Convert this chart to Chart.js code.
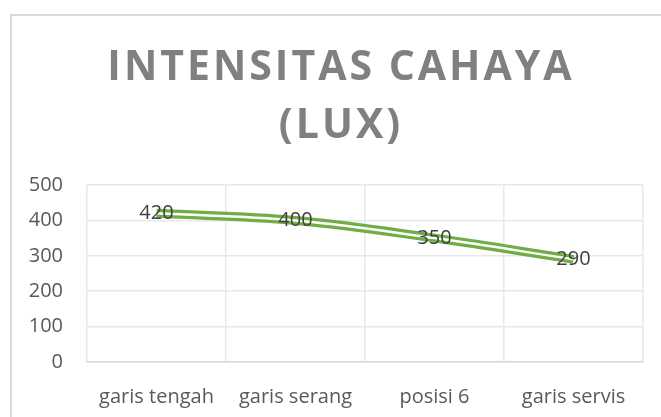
<!DOCTYPE html>
<html>
<head>
<meta charset="utf-8">
<script src="https://cdn.jsdelivr.net/npm/chart.js@4.4.1/dist/chart.umd.min.js"></script>
<style>
  html, body { margin: 0; padding: 0; background: #fff; overflow: hidden; }
  #wrap { position: relative; width: 661px; height: 417px; }
  #frame { position: absolute; left: 10px; top: 14px; width: 700px; height: 450px; border: 2px solid #d9d9d9; box-sizing: border-box; }
  canvas { position: absolute; left: 0; top: 0; }
</style>
</head>
<body>
<div id="wrap">
  <div id="frame"></div>
  <canvas id="chart" width="661" height="417"></canvas>
</div>
<script>
// data
const categories = ['garis tengah', 'garis serang', 'posisi 6', 'garis servis'];
const lux = [420, 400, 350, 290];
const yTicks = [0, 100, 200, 300, 400, 500];
const titleLines = ['INTENSITAS CAHAYA', '(LUX)'];

const green = '#70ad47';
const gridColor = '#e8e8e8';

// Excel-style title, letter spaced
const titlePlugin = {
  id: 'excelTitle',
  afterDraw(chart) {
    const ctx = chart.ctx;
    ctx.save();
    ctx.font = 'bold 41px "Open Sans"';
    ctx.fillStyle = '#808080';
    ctx.textAlign = 'center';
    ctx.textBaseline = 'alphabetic';
    ctx.letterSpacing = '3px';
    ctx.fillText(titleLines[0], 341, 80);
    ctx.fillText(titleLines[1], 341, 138);
    ctx.restore();
  }
};

// value labels centred on the points
const valueLabels = {
  id: 'valueLabels',
  afterDatasetsDraw(chart) {
    const ctx = chart.ctx;
    const meta = chart.getDatasetMeta(0);
    ctx.save();
    ctx.font = '20px "Open Sans"';
    ctx.fillStyle = '#404040';
    ctx.textAlign = 'center';
    ctx.textBaseline = 'middle';
    meta.data.forEach((pt, i) => {
      ctx.fillText(String(lux[i]), pt.x, pt.y);
    });
    ctx.restore();
  }
};

const ctx = document.getElementById('chart').getContext('2d');
new Chart(ctx, {
  type: 'line',
  data: {
    labels: categories,
    datasets: [
      {
        label: 'Intensitas',
        data: lux,
        borderColor: green,
        borderWidth: 9,
        tension: 0.4,
        pointRadius: 0,
        order: 1,
      },
      {
        // inner gap of the double line
        label: 'gap',
        data: lux,
        borderColor: '#ffffff',
        borderWidth: 2.5,
        tension: 0.4,
        pointRadius: 0,
        order: 0,
      },
    ],
  },
  options: {
    responsive: false,
    animation: false,
    layout: { padding: { top: 185, right: 18, left: 0, bottom: 0 } },
    plugins: {
      legend: { display: false },
      tooltip: { enabled: false },
      title: { display: false },
    },
    scales: {
      x: {
        offset: true,
        grid: { offset: true, color: gridColor, lineWidth: 1.5, drawTicks: false },
        border: { color: '#d9d9d9', width: 1.5 },
        ticks: {
          color: '#595959',
          font: { family: 'Open Sans', size: 20 },
          padding: 23,
          maxRotation: 0,
        },
        afterFit(scale) { scale.height = 55; },
      },
      y: {
        min: yTicks[0],
        max: yTicks[yTicks.length - 1],
        grid: { color: gridColor, lineWidth: 1.5, drawTicks: false },
        border: { display: false },
        ticks: {
          stepSize: yTicks[1] - yTicks[0],
          color: '#595959',
          font: { family: 'Open Sans', size: 20 },
          padding: 24,
        },
        afterFit(scale) { scale.width = 87; },
      },
    },
  },
  plugins: [titlePlugin, valueLabels],
});
</script>
</body>
</html>
